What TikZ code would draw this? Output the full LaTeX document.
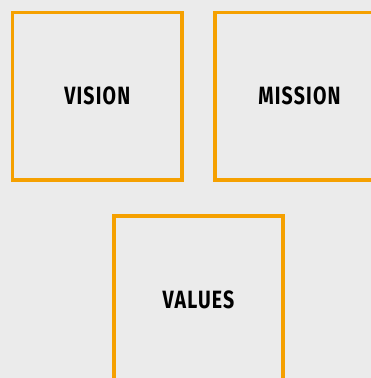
\documentclass[tikz,border=0pt]{standalone}
\usepackage{fontspec}
\setmainfont{Fira Sans}
\usepackage{graphicx}
\definecolor{bgc}{HTML}{EBEBEB}
\definecolor{boxc}{HTML}{F5A000}
\begin{document}
\begin{tikzpicture}[x=1pt,y=-1pt,
  card/.style={draw=boxc,line width=3.5pt,minimum width=169.3pt,minimum height=167.5pt,inner sep=0pt,
    font=\fontsize{25}{25}\selectfont\bfseries,text=black},
]
\useasboundingbox (0,0) rectangle (371,378);
\clip (0,0) rectangle (371,378);
\fill[bgc] (0,0) rectangle (371,378);
\node[card] (vision) at (97.3,96.3) {\scalebox{0.78}[1]{\addfontfeature{LetterSpace=6}VISION}};
\node[card] (mission) at (299.5,96.3) {\scalebox{0.78}[1]{\addfontfeature{LetterSpace=6}MISSION}};
\node[card] (values) at (198.5,299.5) {\scalebox{0.78}[1]{\addfontfeature{LetterSpace=6}VALUES}};
\end{tikzpicture}
\end{document}
